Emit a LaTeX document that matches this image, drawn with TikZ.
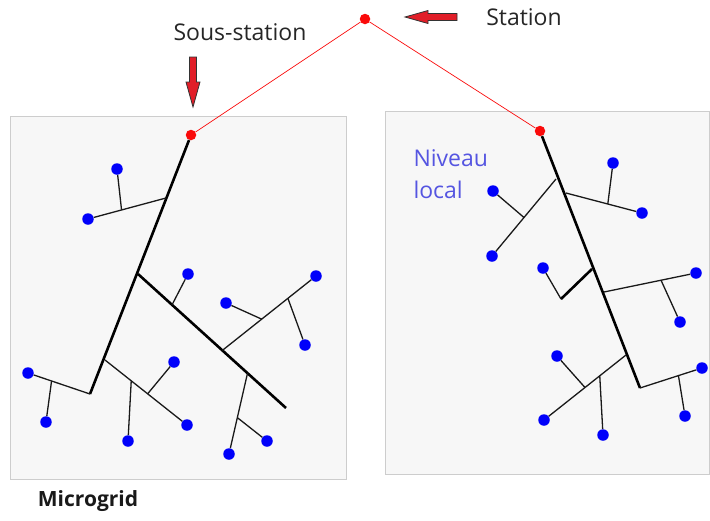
\documentclass[tikz,border=0pt]{standalone}
\usepackage{fontspec}
\setmainfont{Open Sans}
\usetikzlibrary{calc}
\definecolor{gridblue}{RGB}{0,0,250}
\definecolor{gridred}{RGB}{250,10,10}
\definecolor{arrowred}{RGB}{225,30,40}
\definecolor{boxfill}{RGB}{247,247,247}
\definecolor{boxline}{RGB}{205,205,205}
\definecolor{labelblue}{RGB}{85,85,225}

\begin{document}
\begin{tikzpicture}[x=1pt, y=-1pt,
		load/.style={circle, fill=gridblue, inner sep=0pt, minimum size=11.5pt},
		feeder/.style={circle, fill=gridred, inner sep=0pt, minimum size=10.5pt},
		trunk/.style={line width=2.6pt, black},
		wire/.style={line width=1.3pt, black!90},
		link/.style={line width=0.7pt, color=gridred},
		region/.style={fill=boxfill, draw=boxline, line width=1pt},
		fatarrow/.style={fill=arrowred, draw=black!80, line width=0.8pt, line join=miter}]
			%%%%% START %%%%%
			\useasboundingbox (0, 0) rectangle (710, 520);
			
			\draw[region] (10, 116) rectangle (346, 479);
			\draw[region] (385, 111) rectangle (709, 474);
			
			% feeders
			\node[feeder] (station) at (365, 19) {};
			\node[feeder] (subL) at (191, 135) {};
			\node[feeder] (subR) at (540, 131) {};
			\draw[link] (subL) -- (station) -- (subR);
			
			% labels and arrows
			\node[text=black!85, font=\fontsize{23}{26}\selectfont] (lblsub) at (240, 32) {Sous-station};
			\node[text=black!85, font=\fontsize{23}{26}\selectfont] (lblsta) at (524, 17) {Station};
			\node[font=\fontsize{21}{24}\selectfont\bfseries, text=black!90] (lblmg) at (88, 501) {Microgrid};
			\node[anchor=west, text=labelblue, font=\fontsize{23}{26}\selectfont] (lblniv) at (410, 158) {Niveau};
			\node[anchor=west, text=labelblue, font=\fontsize{23}{26}\selectfont] (lblloc) at (410, 190) {local};
			
			\draw[fatarrow] (189.5, 57) -- (196.5, 57) -- (196.5, 82) -- (200, 82) -- (193, 107) -- (186, 82) -- (189.5, 82) -- cycle;
			\draw[fatarrow] (457, 13.5) -- (457, 20.5) -- (428, 20.5) -- (428, 23.5) -- (405, 17) -- (428, 10.5) -- (428, 13.5) -- cycle;
			
			% left microgrid
			\coordinate (la) at (166, 198);
			\coordinate (lb) at (138, 274);
			\coordinate (lc) at (105, 360);
			\coordinate (ld) at (90, 394);
			\coordinate (le) at (286, 408);
			\node[load] (l1) at (117, 169) {};
			\node[load] (l2) at (88, 219) {};
			\node[load] (l3) at (188, 274) {};
			\node[load] (l4) at (226, 303) {};
			\node[load] (l5) at (316, 276) {};
			\node[load] (l6) at (305, 345) {};
			\node[load] (l7) at (174, 362) {};
			\node[load] (l8) at (187, 425) {};
			\node[load] (l9) at (128, 441) {};
			\node[load] (l10) at (28, 373) {};
			\node[load] (l11) at (46, 422) {};
			\node[load] (l12) at (229, 454) {};
			\node[load] (l13) at (267, 441) {};
			
			\draw[trunk] (subL) -- (ld);
			\draw[trunk] (lb) -- (le);
			
			\draw[wire] (la) -- (l2);
			\draw[wire] ($(la)!0.57!(l2)$) -- (l1);
			\draw[wire] ($(lb)!0.23!(le)$) -- (l3);
			\draw[wire] ($(lb)!0.57!(le)$) coordinate (lf) -- (l5);
			\draw[wire] ($(lf)!0.42!(l5)$) -- (l4);
			\draw[wire] ($(lf)!0.70!(l5)$) -- (l6);
			\draw[wire] ($(lb)!0.74!(le)$) coordinate (lg) -- (l12);
			\draw[wire] ($(lg)!0.55!(l12)$) -- (l13);
			\draw[wire] (lc) -- (l8);
			\draw[wire] ($(lc)!0.32!(l8)$) -- (l9);
			\draw[wire] ($(lc)!0.52!(l8)$) -- (l7);
			\draw[wire] (ld) -- (l10);
			\draw[wire] ($(ld)!0.62!(l10)$) -- (l11);
			
			% right microgrid
			\coordinate (rf) at (556, 179);
			\coordinate (rg) at (566, 193);
			\coordinate (rh) at (592, 269);
			\coordinate (rk) at (561, 299);
			\coordinate (ri) at (604, 292);
			\coordinate (rj) at (626, 355);
			\coordinate (rm) at (640, 388);
			\node[load] (r1) at (493, 191) {};
			\node[load] (r2) at (492, 256) {};
			\node[load] (r3) at (613, 163) {};
			\node[load] (r4) at (642, 213) {};
			\node[load] (r5) at (543, 268) {};
			\node[load] (r6) at (696, 273) {};
			\node[load] (r7) at (680, 322) {};
			\node[load] (r8) at (557, 356) {};
			\node[load] (r9) at (544, 420) {};
			\node[load] (r10) at (603, 435) {};
			\node[load] (r11) at (702, 368) {};
			\node[load] (r12) at (685, 416) {};
			
			\draw[trunk] (subR) -- (rm);
			\draw[trunk] (rh) -- (rk);
			
			\draw[wire] (rf) -- (r2);
			\draw[wire] ($(rf)!0.5!(r2)$) -- (r1);
			\draw[wire] (rg) -- (r4);
			\draw[wire] ($(rg)!0.55!(r4)$) -- (r3);
			\draw[wire] (rk) -- (r5);
			\draw[wire] (ri) -- (r6);
			\draw[wire] ($(ri)!0.62!(r6)$) -- (r7);
			\draw[wire] (rj) -- (r9);
			\draw[wire] ($(rj)!0.32!(r9)$) -- (r10);
			\draw[wire] ($(rj)!0.50!(r9)$) -- (r8);
			\draw[wire] (rm) -- (r11);
			\draw[wire] ($(rm)!0.62!(r11)$) -- (r12);
			
			%%%%% END %%%%%
\end{tikzpicture}
\end{document}
